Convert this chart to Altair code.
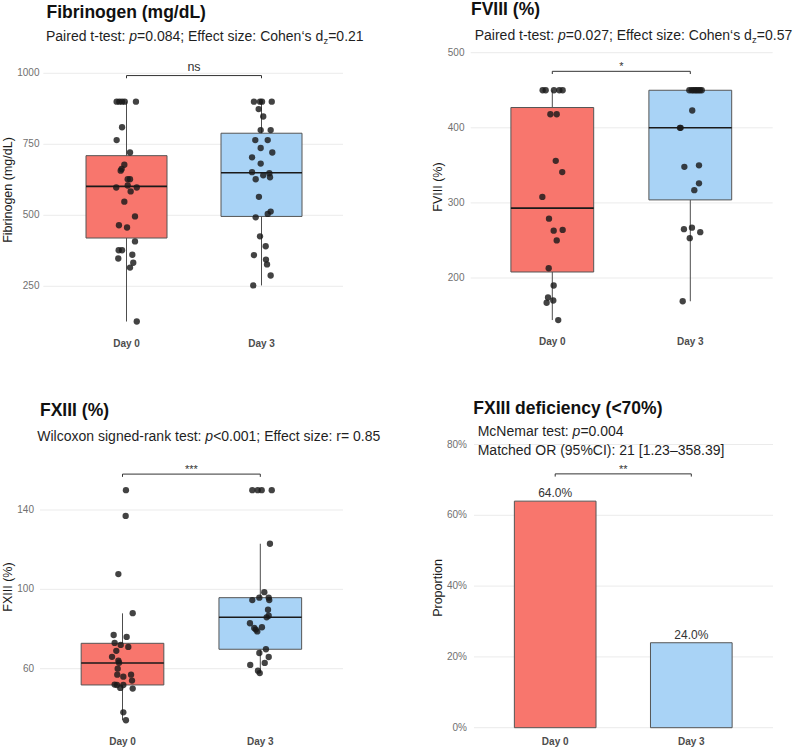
import altair as alt
import pandas as pd

FONT = "Liberation Sans"
DAYS = ["Day 0", "Day 3"]
FILLS = ["#F8766D", "#A9D3F6"]

# ---------------- data ----------------
# Fibrinogen (mg/dL), individual patients; jitter is the horizontal offset in category units
fib_day0 = [900, 900, 900, 900, 900, 810, 765, 721, 678, 663, 657, 627, 627, 605, 598,
            598, 584, 548, 496, 465, 457, 408, 377, 377, 361, 348, 333, 316, 126]
fib_jit0 = [-0.073, -0.053, -0.033, -0.013, 0.070, -0.033, -0.073, 0.026, -0.016, -0.036,
            -0.043, 0.009, 0.026, 0.009, -0.076, 0.076, 0.031, -0.016, 0.063, -0.056,
            0.004, 0.063, -0.058, -0.033, 0.043, -0.061, 0.050, 0.026, 0.076]
fib_day3 = [900, 900, 900, 900, 874, 848, 800, 800, 765, 765, 737, 721, 704, 682, 652,
            648, 641, 634, 627, 565, 513, 505, 493, 426, 391, 360, 344, 327, 288, 253]
fib_jit3 = [-0.056, -0.011, 0.004, 0.076, -0.021, 0.013, -0.006, 0.068, -0.046, 0.046,
            -0.006, 0.080, -0.070, -0.006, -0.070, 0.058, 0.013, 0.063, -0.043, -0.019,
            0.068, 0.046, -0.043, -0.011, 0.031, -0.056, 0.033, 0.041, 0.068, -0.061]
fib_lo = [126, 253]
fib_q1 = [420, 496]
fib_med = [602, 650]
fib_q3 = [710, 789]
fib_hi = [900, 900]

# FVIII (%)
fviii_day0 = [450, 450, 450, 450, 450, 418, 418, 356, 341, 308, 279, 264, 263, 250, 213,
              190, 174, 170, 167, 144]
fviii_jit0 = [-0.070, -0.048, 0.012, 0.051, 0.075, -0.014, 0.032, 0.025, 0.072, -0.072,
              -0.024, 0.075, 0.010, 0.032, -0.026, 0.010, -0.031, 0.007, -0.041, 0.043]
fviii_day3 = [450, 450, 450, 450, 450, 450, 450, 450, 423, 400, 400, 350, 348, 326, 317,
              267, 265, 261, 253, 169]
fviii_jit3 = [-0.007, 0.010, 0.022, 0.035, 0.046, 0.058, 0.070, 0.083, 0.014, -0.075,
              -0.070, 0.063, -0.043, 0.063, 0.029, 0.012, -0.046, 0.072, -0.004, -0.055]
fviii_lo = [144, 169]
fviii_q1 = [208, 304]
fviii_med = [293, 400]
fviii_q3 = [427, 450]
fviii_hi = [450, 450]

# FXIII (%)
fxiii_day0 = [150, 137, 107.7, 88, 77, 76, 73, 72, 71, 69, 66, 64, 63, 60, 57, 57, 56, 54,
              52, 51.8, 51.8, 50.3, 50, 38, 34]
fxiii_jit0 = [0.025, 0.023, -0.030, 0.074, -0.064, 0.030, -0.057, -0.013, 0.042, -0.045,
              -0.076, -0.030, -0.025, -0.035, -0.038, 0.062, 0.006, 0.069, -0.057, -0.040,
              0.006, -0.016, 0.074, 0.006, 0.025]
fxiii_day3 = [150, 150, 150, 150, 123, 98.6, 95.8, 94.6, 95.8, 94.6, 89.7, 86.7, 85.9,
              82.9, 80.5, 80.9, 78.8, 79.7, 69.8, 67.9, 65.9, 62.9, 61.9, 59, 57.8]
fxiii_jit3 = [-0.058, -0.019, 0.010, 0.083, 0.070, 0.029, -0.007, -0.058, 0.061, 0.065,
              0.056, 0.061, 0.046, -0.075, -0.044, 0.012, -0.022, -0.033, 0.041, -0.007,
              0.061, 0.032, -0.073, -0.017, -0.004]
fxiii_lo = [34, 57.8]
fxiii_q1 = [51.8, 69.8]
fxiii_med = [62.9, 85.9]
fxiii_q3 = [72.8, 95.8]
fxiii_hi = [87.9, 123]

# FXIII deficiency (<70%): proportion of patients
deficiency = [0.64, 0.24]

# ---------------- text metrics (Arial / Liberation Sans advance widths, 1/1000 em) ----------------
ADV = {" ": 278, "%": 889, "(": 333, ")": 333, "*": 389, ",": 278, "-": 333, ".": 278,
       "/": 278, ":": 278, ";": 278, "<": 584, "=": 584, "[": 278, "]": 278, "\u2013": 556,
       "\u2018": 222, "A": 667, "C": 722, "E": 667, "I": 278, "M": 833, "N": 722,
       "O": 778, "P": 667, "R": 722, "W": 944,
       "a": 556, "b": 556, "c": 500, "d": 556, "e": 556, "f": 278, "g": 556, "h": 556,
       "i": 222, "k": 500, "l": 222, "m": 833, "n": 556, "o": 556, "p": 556, "r": 333,
       "s": 500, "t": 278, "x": 500, "z": 500}


def text_width(s, size):
    return sum(ADV.get(c, 556) for c in s) * size / 1000.0


def text_run(segments, x0, y0, size=14.0, sub_size=9.5):
    """Lay out a line of mixed normal / italic / subscript text."""
    rows = {"n": [], "i": [], "s": []}
    x = x0
    for txt, style in segments:
        if style == "s":
            rows["s"].append({"t": txt, "x": x, "y": y0 + 3})
            x += text_width(txt, sub_size)
        else:
            rows[style].append({"t": txt, "x": x, "y": y0})
            x += text_width(txt, size)
    out = []
    for style, rs in rows.items():
        if not rs:
            continue
        out.append(
            alt.Chart(pd.DataFrame(rs))
            .mark_text(align="left", baseline="alphabetic", font=FONT, color="#1f1f1f",
                       fontSize=sub_size if style == "s" else size,
                       fontStyle="italic" if style == "i" else "normal")
            .encode(x=alt.X("x:Q", scale=None, axis=None),
                    y=alt.Y("y:Q", scale=None, axis=None),
                    text="t:N")
        )
    return out


def label(txt, x, y, size, weight="normal", angle=0, align="left", color="#111111"):
    return (
        alt.Chart(pd.DataFrame({"t": [txt]}))
        .mark_text(align=align, baseline="alphabetic" if angle == 0 else "middle",
                   font=FONT, fontSize=size, fontWeight=weight, angle=angle, color=color)
        .encode(x=alt.value(x), y=alt.value(y), text="t:N")
    )


# ---------------- panel builders ----------------
def xscale(p):
    return alt.Scale(domain=[0, 1], range=p["xr"], nice=False, zero=False)


def yscale(p):
    return alt.Scale(domain=p["yd"], range=p["yr"], nice=False, zero=False)


def frame_layers(p):
    ticks = pd.DataFrame({"v": p["ticks"], "lab": p["labels"]})
    grid = alt.Chart(ticks).mark_rule(color="#ebebeb", strokeWidth=1).encode(
        y=alt.Y("v:Q", scale=yscale(p), axis=None),
        x=alt.value(p["gx"][0]), x2=alt.value(p["gx"][1]))
    ylabs = alt.Chart(ticks).mark_text(align="right", baseline="middle", font=FONT,
                                       fontSize=10, color="#707070").encode(
        y=alt.Y("v:Q", scale=yscale(p), axis=None), x=alt.value(p["lx"]), text="lab:N")
    days = pd.DataFrame({"idx": [0, 1], "day": DAYS})
    xlabs = alt.Chart(days).mark_text(baseline="middle", font=FONT, fontSize=10,
                                      fontWeight="bold", color="#4d4d4d").encode(
        x=alt.X("idx:Q", scale=xscale(p), axis=None), y=alt.value(p["xly"]), text="day:N")
    ytitle = label(p["ytitle"], p["ytx"], p["yty"], 12.5, angle=270, align="center",
                   color="#1a1a1a")
    return [grid, ylabs, xlabs, ytitle]


def color_enc():
    return alt.Color("day:N", scale=alt.Scale(domain=DAYS, range=FILLS), legend=None)


def box_layers(p, lo, q1, med, q3, hi, day0, jit0, day3, jit3):
    stats = pd.DataFrame({"idx": [0, 1], "day": DAYS, "lo": lo, "q1": q1, "med": med,
                          "q3": q3, "hi": hi})
    base = alt.Chart(stats).transform_calculate(left="datum.idx - 0.3",
                                                right="datum.idx + 0.3")
    whisk = base.mark_rule(color="#4d4d4d", strokeWidth=1).encode(
        x=alt.X("idx:Q", scale=xscale(p), axis=None),
        y=alt.Y("lo:Q", scale=yscale(p), axis=None), y2="hi:Q")
    box = base.mark_rect(stroke="#555555", strokeWidth=1).encode(
        x=alt.X("left:Q", scale=xscale(p), axis=None), x2="right:Q",
        y=alt.Y("q1:Q", scale=yscale(p), axis=None), y2="q3:Q", color=color_enc())
    median = base.mark_rule(color="#1a1a1a", strokeWidth=1.6).encode(
        x=alt.X("left:Q", scale=xscale(p), axis=None), x2="right:Q",
        y=alt.Y("med:Q", scale=yscale(p), axis=None))
    pts_df = pd.DataFrame({
        "idx": [0] * len(day0) + [1] * len(day3),
        "value": day0 + day3,
        "jit": jit0 + jit3,
    })
    pts = alt.Chart(pts_df).transform_calculate(xp="datum.idx + datum.jit").mark_circle(
        size=40, color="#1a1a1a", opacity=0.82).encode(
        x=alt.X("xp:Q", scale=xscale(p), axis=None),
        y=alt.Y("value:Q", scale=yscale(p), axis=None))
    return [whisk, box, median, pts]


def bracket_layers(p, level, tip, text, dy, size):
    df = pd.DataFrame({"a": [0], "b": [1], "m": [0.5], "y": [level], "tip": [level - tip],
                       "lab": [text]})
    base = alt.Chart(df)
    sty = dict(color="#333333", strokeWidth=1)
    horiz = base.mark_rule(**sty).encode(
        x=alt.X("a:Q", scale=xscale(p), axis=None), x2="b:Q",
        y=alt.Y("y:Q", scale=yscale(p), axis=None))
    left = base.mark_rule(**sty).encode(
        x=alt.X("a:Q", scale=xscale(p), axis=None),
        y=alt.Y("y:Q", scale=yscale(p), axis=None), y2="tip:Q")
    right = base.mark_rule(**sty).encode(
        x=alt.X("b:Q", scale=xscale(p), axis=None),
        y=alt.Y("y:Q", scale=yscale(p), axis=None), y2="tip:Q")
    lab = base.mark_text(baseline="alphabetic", font=FONT, fontSize=size, dy=dy,
                         color="#333333").encode(
        x=alt.X("m:Q", scale=xscale(p), axis=None),
        y=alt.Y("y:Q", scale=yscale(p), axis=None), text="lab:N")
    return [horiz, left, right, lab]


# ---------------- panels ----------------
P1 = dict(xr=[126.5, 261.5], yd=[250, 1000], yr=[286.3, 73.3], gx=[43.3, 343], lx=39.5,
          xly=344.3, ticks=[250, 500, 750, 1000], labels=["250", "500", "750", "1000"],
          ytitle="Fibrinogen (mg/dL)", ytx=8, yty=190)
P2 = dict(xr=[552.3, 690.3], yd=[200, 500], yr=[278, 52.7], gx=[470.7, 772.7], lx=464.5,
          xly=342, ticks=[200, 300, 400, 500], labels=["200", "300", "400", "500"],
          ytitle="FVIII (%)", ytx=437.8, yty=187)
P3 = dict(xr=[122.5, 260.3], yd=[60, 140], yr=[668.7, 510], gx=[40, 343], lx=34,
          xly=742.3, ticks=[60, 100, 140], labels=["60", "100", "140"],
          ytitle="FXIII (%)", ytx=8, yty=587)
P4 = dict(xr=[555.2, 691.3], yd=[0, 0.8], yr=[727.7, 444.5], gx=[474, 773], lx=467,
          xly=742.3, ticks=[0, 0.2, 0.4, 0.6, 0.8],
          labels=[f"{int(round(t * 100))}%" for t in [0, 0.2, 0.4, 0.6, 0.8]],
          ytitle="Proportion", ytx=437.8, yty=588)

layers = []

# Fibrinogen
layers += frame_layers(P1)
layers += box_layers(P1, fib_lo, fib_q1, fib_med, fib_q3, fib_hi,
                     fib_day0, fib_jit0, fib_day3, fib_jit3)
layers += bracket_layers(P1, 992, 9.5, "ns", -5, 12.5)
layers.append(label("Fibrinogen (mg/dL)", 46.5, 17.5, 17.5, weight="bold"))
layers += text_run([("Paired t-test: ", "n"), ("p", "i"),
                    ("=0.084; Effect size: Cohen\u2018s d", "n"), ("z", "s"),
                    ("=0.21", "n")], 46, 40.5)

# FVIII
layers += frame_layers(P2)
layers += box_layers(P2, fviii_lo, fviii_q1, fviii_med, fviii_q3, fviii_hi,
                     fviii_day0, fviii_jit0, fviii_day3, fviii_jit3)
layers += bracket_layers(P2, 475.2, 3.6, "*", -1, 11)
layers.append(label("FVIII (%)", 471, 15, 17.5, weight="bold"))
layers += text_run([("Paired t-test: ", "n"), ("p", "i"),
                    ("=0.027; Effect size: Cohen\u2018s d", "n"), ("z", "s"),
                    ("=0.57", "n")], 474.7, 39.5)

# FXIII
layers += frame_layers(P3)
layers += box_layers(P3, fxiii_lo, fxiii_q1, fxiii_med, fxiii_q3, fxiii_hi,
                     fxiii_day0, fxiii_jit0, fxiii_day3, fxiii_jit3)
layers += bracket_layers(P3, 158.1, 1.4, "***", -1, 11)
layers.append(label("FXIII (%)", 40, 415.5, 17.5, weight="bold"))
layers += text_run([("Wilcoxon signed-rank test: ", "n"), ("p", "i"),
                    ("<0.001; Effect size: r= 0.85", "n")], 37.3, 440.5)

# FXIII deficiency
layers += frame_layers(P4)
bars = pd.DataFrame({"idx": [0, 1], "day": DAYS, "prop": deficiency})
bars["lab"] = [f"{v * 100:.1f}%" for v in deficiency]
bar_base = alt.Chart(bars).transform_calculate(left="datum.idx - 0.3",
                                               right="datum.idx + 0.3", zero="0")
layers.append(bar_base.mark_rect(stroke="#555555", strokeWidth=1).encode(
    x=alt.X("left:Q", scale=xscale(P4), axis=None), x2="right:Q",
    y=alt.Y("zero:Q", scale=yscale(P4), axis=None), y2="prop:Q", color=color_enc()))
layers.append(bar_base.mark_text(baseline="alphabetic", dy=-4, font=FONT, fontSize=12,
                                 color="#333333").encode(
    x=alt.X("idx:Q", scale=xscale(P4), axis=None),
    y=alt.Y("prop:Q", scale=yscale(P4), axis=None), text="lab:N"))
layers += bracket_layers(P4, 0.717, 0.0076, "**", -1, 11)
layers.append(label("FXIII deficiency (<70%)", 473.3, 413.5, 17.5, weight="bold"))
layers += text_run([("McNemar test: ", "n"), ("p", "i"), ("=0.004", "n")], 477.7, 435.5)
layers += text_run([("Matched OR (95%CI): 21 [1.23\u2013358.39]", "n")], 477.7, 454.5)

chart = (
    alt.layer(*layers)
    .resolve_scale(x="independent", y="independent")
    .properties(width=794, height=749, padding=0,
                autosize=alt.AutoSizeParams(type="none"), background="white")
    .configure_view(stroke=None)
)

chart.save("out.html", embed_options={"renderer": "svg", "actions": False})
